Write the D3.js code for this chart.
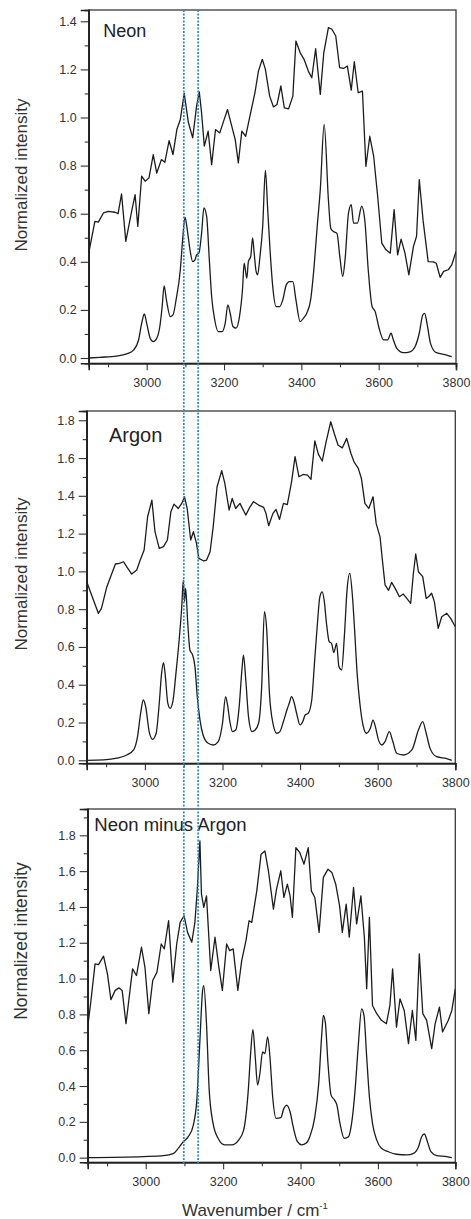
<!DOCTYPE html>
<html><head><meta charset="utf-8">
<script src="https://cdn.jsdelivr.net/npm/d3@7"></script>
<style>
html,body{margin:0;padding:0;background:#fff;}
svg{display:block;font-family:Arial,"Liberation Sans",sans-serif;}
</style>
</head><body>
<svg id="chart" width="471" height="1219"></svg>
<script>
// ---------------- data ----------------
const neonExpWn = [2850,2866,2875,2888,2901,2918,2926,2935,2946,2961,2970,2977,2987,2996,3006,3017,3026,3038,3047,3058,3068,3078,3087,3097,3108,3119,3129,3136,3142,3149,3159,3168,3178,3189,3199,3209,3220,3229,3237,3246,3256,3267,3280,3289,3299,3307,3318,3328,3337,3347,3356,3367,3378,3386,3397,3407,3418,3427,3437,3449,3458,3470,3479,3489,3499,3509,3519,3529,3537,3547,3558,3567,3577,3587,3597,3608,3619,3630,3640,3649,3658,3668,3678,3690,3698,3705,3715,3728,3741,3749,3759,3768,3780,3789,3800];
const neonExpInt = [0.436,0.568,0.565,0.603,0.61,0.606,0.60,0.682,0.485,0.61,0.679,0.547,0.756,0.735,0.749,0.846,0.769,0.825,0.814,0.904,0.846,0.95,0.992,1.10,0.978,0.915,1.047,1.106,1.019,0.881,0.943,0.804,0.95,0.936,0.985,1.033,0.964,0.908,0.811,0.943,0.922,1.006,1.103,1.193,1.242,1.20,1.089,1.044,1.054,1.131,1.04,1.036,1.089,1.318,1.269,1.242,1.193,1.165,1.286,1.096,1.269,1.374,1.367,1.339,1.207,1.204,1.214,1.114,1.232,1.103,1.11,0.797,0.922,0.839,0.679,0.478,0.45,0.436,0.617,0.429,0.494,0.436,0.346,0.464,0.506,0.742,0.57,0.401,0.40,0.394,0.335,0.36,0.367,0.387,0.443];

const neonCalcWn = [2850,2879,2922,2948,2966,2979,2987,2994,3000,3009,3017,3026,3034,3040,3045,3051,3061,3068,3076,3087,3093,3099,3105,3112,3119,3125,3129,3135,3142,3148,3155,3162,3168,3176,3185,3195,3203,3210,3216,3223,3231,3240,3248,3252,3259,3263,3269,3274,3278,3283,3287,3293,3300,3307,3313,3319,3326,3335,3344,3352,3361,3369,3378,3386,3397,3405,3414,3424,3433,3441,3449,3459,3470,3476,3483,3492,3500,3507,3513,3522,3529,3535,3545,3556,3564,3573,3583,3591,3600,3613,3623,3632,3638,3647,3664,3681,3694,3705,3714,3719,3725,3734,3749,3776,3789];
const neonCalcInt = [0,0.003,0.008,0.017,0.033,0.075,0.144,0.183,0.144,0.082,0.068,0.082,0.131,0.214,0.30,0.242,0.172,0.179,0.242,0.367,0.492,0.586,0.533,0.45,0.401,0.408,0.429,0.436,0.519,0.624,0.589,0.408,0.256,0.158,0.11,0.11,0.144,0.221,0.186,0.131,0.124,0.172,0.29,0.394,0.332,0.401,0.422,0.499,0.436,0.36,0.346,0.422,0.547,0.78,0.617,0.45,0.297,0.214,0.214,0.242,0.304,0.318,0.318,0.242,0.151,0.165,0.186,0.242,0.381,0.547,0.70,0.971,0.658,0.54,0.526,0.519,0.415,0.339,0.408,0.603,0.638,0.561,0.561,0.631,0.575,0.367,0.214,0.193,0.131,0.075,0.075,0.103,0.075,0.04,0.022,0.026,0.047,0.103,0.179,0.186,0.144,0.061,0.022,0.0125,0.006];

const argonExpWn = [2850,2880,2888,2902,2915,2924,2934,2945,2953,2966,2979,2988,2998,3007,3018,3026,3037,3048,3058,3067,3075,3086,3095,3102,3109,3118,3125,3133,3139,3152,3159,3168,3176,3186,3198,3206,3217,3225,3234,3245,3260,3271,3280,3293,3306,3312,3319,3330,3338,3347,3357,3367,3378,3387,3397,3408,3419,3428,3438,3447,3457,3467,3479,3488,3498,3509,3520,3531,3539,3550,3558,3567,3577,3588,3596,3606,3613,3619,3628,3636,3645,3656,3666,3675,3685,3692,3698,3705,3716,3725,3731,3739,3746,3756,3765,3778,3788,3800];
const argonExpInt = [0.945,0.778,0.804,0.919,0.99,1.039,1.042,1.051,1.025,0.986,1.007,1.06,1.113,1.289,1.377,1.21,1.122,1.131,1.166,1.316,1.356,1.333,1.36,1.395,1.333,1.166,1.21,1.148,1.069,1.055,1.06,1.104,1.236,1.448,1.533,1.466,1.325,1.386,1.333,1.36,1.298,1.342,1.369,1.351,1.339,1.307,1.242,1.307,1.328,1.275,1.36,1.354,1.474,1.607,1.501,1.513,1.51,1.487,1.691,1.621,1.584,1.686,1.792,1.73,1.668,1.654,1.704,1.624,1.58,1.545,1.492,1.36,1.333,1.395,1.254,1.183,1.042,0.928,0.90,0.942,0.91,0.866,0.88,0.857,0.831,0.99,1.092,0.998,0.972,0.857,0.866,0.884,0.84,0.698,0.76,0.778,0.751,0.707];

const argonCalcWn = [2850,2894,2928,2953,2971,2981,2989,2996,3002,3011,3020,3029,3037,3043,3048,3052,3059,3065,3072,3080,3089,3095,3099,3102,3105,3110,3116,3123,3129,3135,3142,3150,3163,3176,3189,3200,3208,3213,3219,3226,3234,3243,3250,3254,3260,3267,3276,3284,3293,3301,3308,3314,3321,3330,3340,3348,3357,3366,3372,3378,3384,3391,3400,3407,3413,3421,3430,3437,3444,3451,3457,3462,3468,3475,3481,3487,3494,3500,3507,3514,3521,3528,3535,3541,3547,3554,3563,3571,3581,3588,3594,3602,3611,3619,3630,3639,3649,3666,3688,3705,3716,3725,3735,3752,3778,3791];
const argonCalcInt = [0,0.002,0.011,0.028,0.055,0.125,0.249,0.319,0.284,0.152,0.111,0.143,0.302,0.46,0.517,0.46,0.302,0.275,0.31,0.46,0.654,0.813,0.954,0.84,0.91,0.742,0.584,0.557,0.496,0.337,0.213,0.134,0.09,0.081,0.099,0.196,0.337,0.293,0.205,0.152,0.16,0.284,0.478,0.557,0.425,0.231,0.152,0.16,0.196,0.39,0.787,0.69,0.354,0.196,0.143,0.152,0.205,0.266,0.302,0.337,0.31,0.249,0.187,0.205,0.24,0.249,0.319,0.513,0.707,0.866,0.892,0.848,0.725,0.628,0.619,0.57,0.619,0.496,0.478,0.654,0.901,0.989,0.866,0.672,0.46,0.302,0.178,0.143,0.169,0.213,0.178,0.108,0.081,0.099,0.152,0.099,0.037,0.028,0.055,0.16,0.205,0.143,0.063,0.019,0.009,0];

const diffExpWn = [2850,2858,2869,2878,2891,2901,2910,2921,2931,2939,2949,2966,2976,2989,2998,3008,3018,3029,3040,3048,3059,3070,3080,3089,3099,3108,3119,3127,3133,3140,3144,3150,3157,3168,3179,3189,3198,3209,3217,3226,3238,3248,3259,3267,3274,3287,3298,3308,3317,3330,3338,3349,3357,3366,3373,3379,3388,3398,3409,3420,3428,3437,3448,3459,3471,3481,3491,3501,3508,3518,3526,3537,3545,3556,3565,3571,3578,3586,3597,3609,3622,3631,3638,3648,3657,3668,3679,3689,3698,3707,3716,3726,3739,3748,3759,3767,3782,3791,3800];
const diffExpInt = [0.729,0.869,1.082,1.078,1.125,1.026,0.882,0.934,0.948,0.934,0.748,1.054,1.017,1.175,1.063,0.804,0.989,1.036,1.193,1.166,1.323,0.98,1.193,1.314,1.351,1.258,1.203,1.314,1.49,1.769,1.471,1.398,1.462,1.045,1.231,1.063,0.934,1.193,1.156,1.166,0.934,1.10,1.212,1.323,1.314,1.49,1.694,1.713,1.602,1.388,1.499,1.602,1.453,1.527,1.462,1.342,1.731,1.704,1.639,1.731,1.49,1.453,1.258,1.565,1.611,1.593,1.527,1.406,1.258,1.416,1.231,1.509,1.305,1.462,1.231,0.943,1.342,0.85,0.804,0.767,0.748,0.85,1.054,0.729,0.887,0.822,0.637,0.822,0.655,1.138,0.804,0.767,0.609,0.748,0.841,0.702,0.767,0.822,0.943];

const diffCalcWn = [2850,2993,3046,3072,3084,3097,3110,3123,3132,3140,3147,3150,3157,3164,3174,3187,3204,3222,3240,3253,3265,3271,3277,3283,3289,3295,3302,3308,3315,3321,3328,3337,3349,3357,3364,3373,3381,3392,3403,3414,3424,3437,3447,3455,3459,3464,3471,3479,3488,3494,3502,3513,3524,3532,3541,3549,3558,3564,3571,3578,3586,3597,3609,3627,3648,3675,3692,3705,3713,3720,3728,3737,3752,3778,3791];
const diffCalcInt = [0,0.006,0.011,0.024,0.052,0.089,0.117,0.182,0.321,0.655,0.934,0.961,0.748,0.377,0.191,0.108,0.071,0.071,0.098,0.154,0.377,0.581,0.715,0.562,0.405,0.47,0.59,0.581,0.674,0.562,0.34,0.219,0.223,0.275,0.293,0.256,0.173,0.089,0.071,0.08,0.117,0.228,0.414,0.692,0.794,0.757,0.525,0.349,0.321,0.293,0.191,0.108,0.117,0.191,0.377,0.618,0.831,0.794,0.562,0.34,0.191,0.098,0.052,0.033,0.019,0.015,0.024,0.061,0.117,0.132,0.089,0.033,0.011,0.006,0];

const panelTitles = ["Neon", "Argon", "Neon minus Argon"];
const xTickLabels = [3000, 3200, 3400, 3600, 3800];
const xMinorTicks = [2900, 3100, 3300, 3500, 3700];
const yTickLabels1 = [0, 0.2, 0.4, 0.6, 0.8, 1.0, 1.2, 1.4];
const yTickLabels2 = [0, 0.2, 0.4, 0.6, 0.8, 1.0, 1.2, 1.4, 1.6, 1.8];
const yTickLabels3 = [0, 0.2, 0.4, 0.6, 0.8, 1.0, 1.2, 1.4, 1.6, 1.8];
const markerWn = [3096, 3133];
const xTitle = "Wavenumber / cm";
const xTitleSup = "-1";
const yTitle = "Normalized intensity";

// ---------------- layout ----------------
const panels = [
  {l:88.7, r:456, t:10, b:363.3, yDom:[-0.022,1.447], yTicks:yTickLabels1,
   exp:[neonExpWn,neonExpInt], calc:[neonCalcWn,neonCalcInt], title:panelTitles[0],
   tx:103.3, ty:37.3, ts:18, yty:175, yts:17},
  {l:86.7, r:455.3, t:411, b:763.3, yDom:[-0.016,1.849], yTicks:yTickLabels2,
   exp:[argonExpWn,argonExpInt], calc:[argonCalcWn,argonCalcInt], title:panelTitles[1],
   tx:109, ty:441.7, ts:20, yty:574, yts:17},
  {l:87.7, r:455.3, t:809, b:1162.3, yDom:[-0.026,1.947], yTicks:yTickLabels3,
   exp:[diffExpWn,diffExpInt], calc:[diffCalcWn,diffCalcInt], title:panelTitles[2],
   tx:94.3, ty:830.7, ts:18.5, yty:941, yts:17.5}
];

const svg = d3.select("#chart");
svg.append("rect").attr("width",471).attr("height",1219).attr("fill","#fff");
const textColor = "#333";
const fmt = d3.format(".1f");
const scales = [];

panels.forEach((p, i) => {
  const x = d3.scaleLinear().domain([2850, 3800]).range([p.l, p.r]);
  const y = d3.scaleLinear().domain(p.yDom).range([p.b, p.t]);
  scales.push({x, y});
  const g = svg.append("g");

  const clipId = "clip" + i;
  svg.append("clipPath").attr("id", clipId).append("rect")
    .attr("x", p.l).attr("y", p.t).attr("width", p.r - p.l).attr("height", p.b - p.t);

  // frame
  g.append("rect").attr("x", p.l).attr("y", p.t).attr("width", p.r - p.l).attr("height", p.b - p.t)
    .attr("fill", "none").attr("stroke", "#3a3a3a").attr("stroke-width", 1.3);

  // x axis
  const xAxis = d3.axisBottom(x).tickValues(xTickLabels).tickSize(7).tickPadding(5).tickFormat(d3.format("d"));
  const xa = g.append("g").attr("transform", `translate(0,${p.b})`).call(xAxis);
  const xMinor = d3.axisBottom(x).tickValues(xMinorTicks).tickSize(4).tickFormat("");
  const xm = g.append("g").attr("transform", `translate(0,${p.b})`).call(xMinor);
  // y axis
  const yAxis = d3.axisLeft(y).tickValues(p.yTicks).tickSize(8).tickPadding(4).tickFormat(fmt);
  const ya = g.append("g").attr("transform", `translate(${p.l},0)`).call(yAxis);
  const yMinorVals = d3.range(0.1, p.yDom[1], 0.2).filter(v => v < p.yDom[1]);
  const yMinor = d3.axisLeft(y).tickValues(yMinorVals).tickSize(4).tickFormat("");
  const ym = g.append("g").attr("transform", `translate(${p.l},0)`).call(yMinor);

  [xa, xm, ya, ym].forEach(a => {
    a.select(".domain").attr("stroke", "#222").attr("stroke-width", 1.6);
    a.selectAll(".tick line").attr("stroke", "#333").attr("stroke-width", 1.1);
    a.selectAll(".tick text").attr("fill", textColor).attr("font-size", 12.5)
      .attr("font-family", "Arial, 'Liberation Sans', sans-serif");
  });
  xa.selectAll(".tick text").attr("dy", null).attr("y", 24).attr("dominant-baseline", "auto");

  // curves
  const lineExp = d3.line().x(d => x(d[0])).y(d => y(d[1])).curve(d3.curveLinear);
  const lineCalc = d3.line().x(d => x(d[0])).y(d => y(d[1])).curve(d3.curveMonotoneX);
  const expData = p.exp[0].map((w, k) => [w, p.exp[1][k]]);
  const calcData = p.calc[0].map((w, k) => [w, p.calc[1][k]]);
  const cg = g.append("g").attr("clip-path", `url(#${clipId})`);
  cg.append("path").datum(expData).attr("d", lineExp).attr("fill", "none")
    .attr("stroke", "#1c1c1c").attr("stroke-width", 1.3).attr("stroke-linejoin", "round");
  cg.append("path").datum(calcData).attr("d", lineCalc).attr("fill", "none")
    .attr("stroke", "#1c1c1c").attr("stroke-width", 1.3).attr("stroke-linejoin", "round");

  // panel title
  g.append("text").attr("x", p.tx).attr("y", p.ty).attr("font-size", p.ts)
    .attr("fill", "#222").text(p.title);

  // y title
  g.append("text").attr("transform", `translate(27,${p.yty}) rotate(-90)`)
    .attr("text-anchor", "middle").attr("font-size", p.yts).attr("fill", textColor).text(yTitle);
});

// x title
const xt = svg.append("text").attr("x", 182).attr("y", 1216).attr("font-size", 17).attr("fill", textColor);
xt.append("tspan").text(xTitle);
xt.append("tspan").attr("font-size", 9.5).attr("dy", -7).text(xTitleSup);

// blue dotted marker lines across all panels (positioned via top panel scale)
const xs0 = scales[0].x;
svg.append("g").selectAll("line").data(markerWn).join("line")
  .attr("x1", d => xs0(d)).attr("x2", d => xs0(d))
  .attr("y1", panels[0].t).attr("y2", panels[2].b + 1)
  .attr("stroke", "#2a88d6").attr("stroke-width", 1.7).attr("stroke-dasharray", "2,1.5");
</script>
</body></html>
